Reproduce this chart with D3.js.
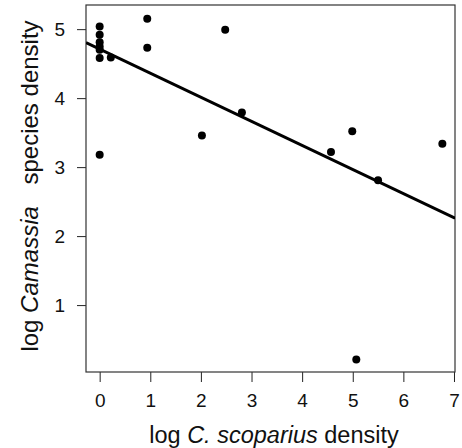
<!DOCTYPE html>
<html>
<head>
<meta charset="utf-8">
<script src="https://cdn.jsdelivr.net/npm/d3@7"></script>
<style>
  body { margin: 0; background: #fff; }
  svg { display: block; font-family: "Liberation Sans", Arial, sans-serif; }
</style>
</head>
<body>
<svg id="chart" width="462" height="448"></svg>
<script>
// point values
const scopariusDensity = [0, 0, 0, 0, 0, 0, 0, 0.22, 0.94, 0.94, 2.02, 2.48, 2.81, 4.57, 4.99, 5.07, 5.50, 6.77];
const camassiaDensity = [5.04, 4.92, 4.81, 4.75, 4.70, 4.58, 3.18, 4.59, 5.15, 4.73, 3.46, 4.99, 3.79, 3.22, 3.52, 0.21, 2.81, 3.34];
const xTicks = [0, 1, 2, 3, 4, 5, 6, 7];
const yTicks = [1, 2, 3, 4, 5];
// fitted line
const fitIntercept = 4.71;
const fitSlope = -0.349;

const svg = d3.select('#chart');
const plotLeft = 86, plotRight = 455, plotTop = 5, plotBottom = 372;

let x = d3.scaleLinear().domain([-0.27, 7.02]).range([plotLeft, plotRight]);
let y = d3.scaleLinear().domain([0.03, 5.35]).range([plotBottom, plotTop]);

// y axis
let yAxis = svg.append('g')
  .attr('transform', 'translate(' + plotLeft + ',0)')
  .call(d3.axisLeft(y).tickValues(yTicks).tickSize(9).tickPadding(12).tickFormat(d3.format('d')));
yAxis.select('.domain').remove();
yAxis.selectAll('line').attr('stroke', '#222');
yAxis.selectAll('text').attr('font-size', 19).attr('fill', '#111');
yAxis.attr('font-family', null);

// x axis
let xAxis = svg.append('g')
  .attr('transform', 'translate(0,' + plotBottom + ')')
  .call(d3.axisBottom(x).tickValues(xTicks).tickSize(10).tickPadding(12).tickFormat(d3.format('d')));
xAxis.select('.domain').remove();
xAxis.selectAll('line').attr('stroke', '#222');
xAxis.selectAll('text').attr('font-size', 19).attr('fill', '#111');
xAxis.attr('font-family', null);

// box
svg.append('rect')
  .attr('x', plotLeft).attr('y', plotTop)
  .attr('width', plotRight - plotLeft).attr('height', plotBottom - plotTop)
  .attr('fill', 'none').attr('stroke', '#333').attr('stroke-width', 1.2);

// clip the fit line to the box
svg.append('clipPath').attr('id', 'box')
  .append('rect')
  .attr('x', plotLeft).attr('y', plotTop)
  .attr('width', plotRight - plotLeft).attr('height', plotBottom - plotTop);

let xs = x.domain();
svg.append('line')
  .attr('clip-path', 'url(#box)')
  .attr('x1', x(xs[0])).attr('y1', y(fitIntercept + fitSlope * xs[0]))
  .attr('x2', x(xs[1])).attr('y2', y(fitIntercept + fitSlope * xs[1]))
  .attr('stroke', '#000').attr('stroke-width', 3);

svg.append('g').selectAll('circle')
  .data(d3.range(scopariusDensity.length))
  .join('circle')
  .attr('cx', i => x(scopariusDensity[i]))
  .attr('cy', i => y(camassiaDensity[i]))
  .attr('r', 4)
  .attr('fill', '#000');

// titles
let xTitle = svg.append('text')
  .attr('x', 274).attr('y', 443)
  .attr('text-anchor', 'middle').attr('font-size', 23.5).attr('fill', '#111');
xTitle.append('tspan').text('log ');
xTitle.append('tspan').attr('font-style', 'italic').text('C. scoparius');
xTitle.append('tspan').text(' density');

let yTitle = svg.append('text')
  .attr('transform', 'translate(38,186) rotate(-90)')
  .attr('text-anchor', 'middle').attr('font-size', 24).attr('fill', '#111');
yTitle.append('tspan').text('log ');
yTitle.append('tspan').attr('font-style', 'italic').text('Camassia');
yTitle.append('tspan').attr('dx', 15).text(' species density');
</script>
</body>
</html>
